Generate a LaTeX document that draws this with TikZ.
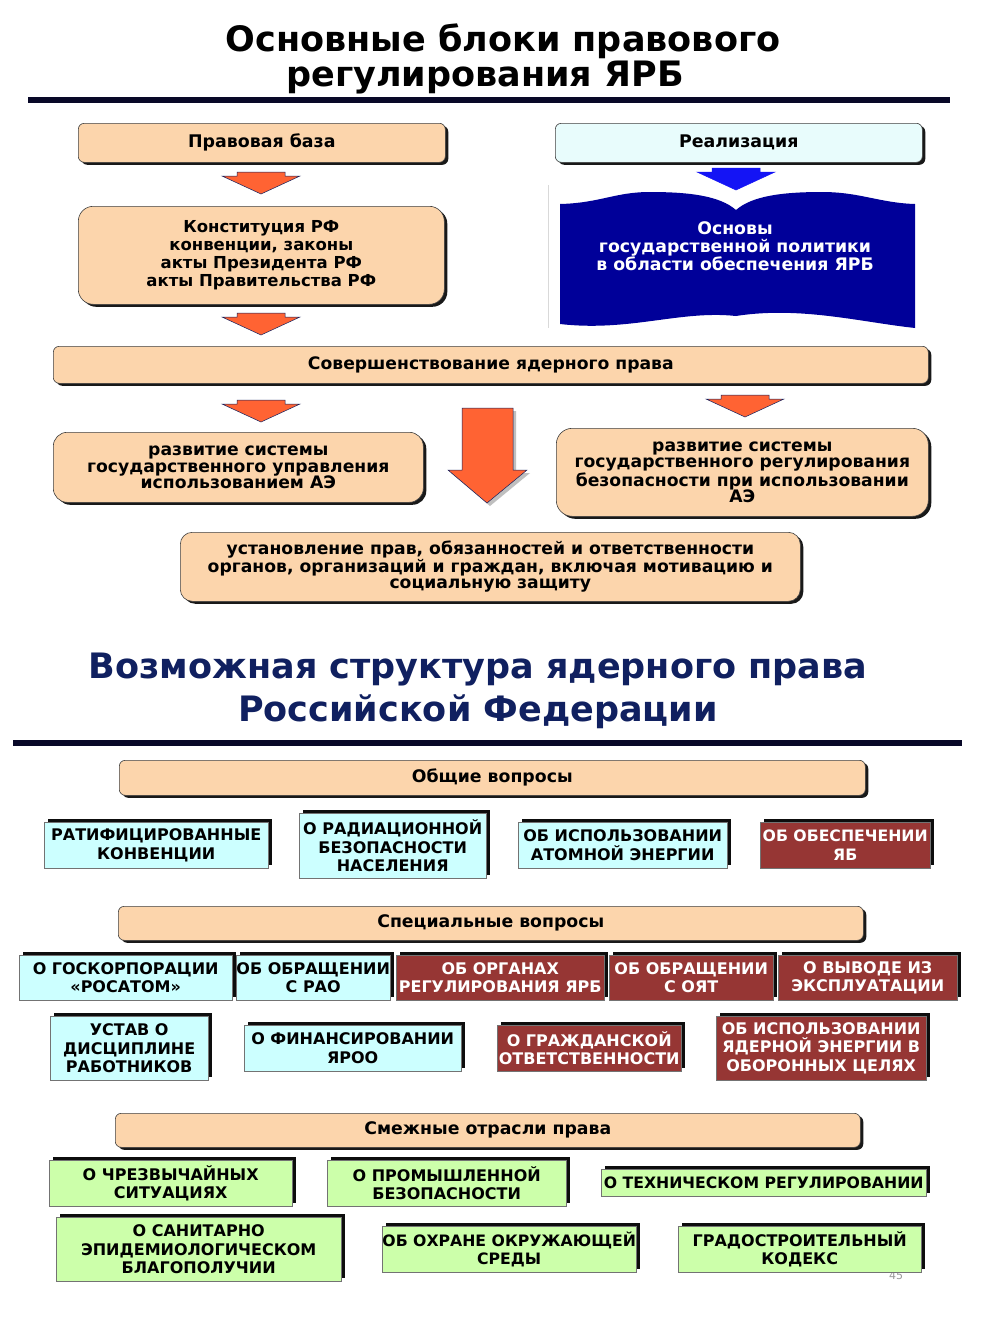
\documentclass[tikz,border=0pt]{standalone}
\usepackage{fontspec}
\setmainfont{DejaVu Sans}
\usetikzlibrary{shadows}
\definecolor{peach}{RGB}{252,213,172}
\definecolor{lcyan}{RGB}{232,252,252}
\definecolor{cyanb}{RGB}{204,255,255}
\definecolor{redb}{RGB}{150,54,52}
\definecolor{greenb}{RGB}{204,255,170}
\definecolor{arrOr}{RGB}{255,99,51}
\definecolor{arrBl}{RGB}{20,20,245}
\definecolor{bookb}{RGB}{0,0,153}
\definecolor{navy}{RGB}{16,32,96}
\definecolor{rulec}{RGB}{8,8,40}
\begin{document}
\begin{tikzpicture}[x=1pt,y=-1pt,
  topbox/.style={draw=black!75, line width=0.6pt, rounded corners=6pt, fill=peach,
    drop shadow={shadow xshift=3pt, shadow yshift=-2.5pt, fill=black, opacity=0.9},
    inner sep=0pt, align=center, anchor=north west,
    font=\bfseries\fontsize{17.2}{16.5}\selectfont},
  hdrfont/.style={font=\bfseries\fontsize{17.3}{19}\selectfont},
  botbox/.style={draw=black!55, line width=0.4pt, inner sep=0pt, align=center, anchor=north west,
    drop shadow={shadow xshift=4pt, shadow yshift=3pt, fill=black, opacity=0.95},
    font=\bfseries\fontsize{16}{18.5}\selectfont},
  cyb/.style={botbox, fill=cyanb},
  rdb/.style={botbox, fill=redb, text=white},
  grb/.style={botbox, fill=greenb},
  title/.style={font=\bfseries\fontsize{35}{37}\selectfont, inner sep=0pt},
  chev/.pic={\path[pic actions] (-24,0) -- (24,0) -- (24,4) -- (39,4) -- (0,22) -- (-39,4) -- (-24,4) -- cycle;}
]
\useasboundingbox[fill=white] (0,0) rectangle (995,1320);

% ---------- Title 1
\node[title] (t1a) at (503,41) {Основные блоки правового};
\node[title] (t1b) at (485,78) {регулирования ЯРБ};
\fill[rulec] (28,97) rectangle (950,103);

% ---------- top section
\node[topbox, minimum width=367pt, minimum height=39pt, font=\bfseries\fontsize{17.4}{18}\selectfont] (pb) at (78,123) {Правовая база};
\node[topbox, fill=lcyan, minimum width=367pt, minimum height=39pt, font=\bfseries\fontsize{17.4}{18}\selectfont] (re) at (555,123) {Реализация};

\pic[fill=arrOr, draw=navy, line width=0.5pt] at (261,172) {chev};
\pic[fill=arrBl, draw=arrBl, line width=0.5pt] at (736,168) {chev};

\node[topbox, rounded corners=15pt, minimum width=366pt, minimum height=98pt, font=\bfseries\fontsize{16.5}{18}\selectfont] (ko) at (78,206)
  {Конституция РФ\\конвенции, законы\\акты Президента РФ\\акты Правительства РФ};

% book
\draw[black!15, line width=0.8pt] (548,185) -- (548,328);
\fill[bookb] (560,204) .. controls (600,203) and (615,192) .. (650,192)
  .. controls (690,192) and (720,196) .. (736,210)
  .. controls (752,196) and (782,192) .. (822,192)
  .. controls (860,192) and (880,203) .. (915,204)
  -- (915,328)
  .. controls (860,322) and (800,306) .. (736,316)
  .. controls (680,310) and (630,332) .. (560,324) -- cycle;
\node[text=white, align=center, inner sep=0pt, font=\bfseries\fontsize{17.3}{18}\selectfont] (bk) at (735,246)
  {Основы\\государственной политики\\в области обеспечения ЯРБ};

\pic[fill=arrOr, draw=navy, line width=0.5pt] at (261,313) {chev};

\node[topbox, minimum width=875pt, minimum height=37pt] (so) at (53,346) {Совершенствование ядерного права};

\pic[fill=arrOr, draw=navy, line width=0.5pt] at (261,400) {chev};
\pic[fill=arrOr, draw=navy, line width=0.5pt] at (745,395) {chev};

\fill[black!25] (465,411) -- (516,411) -- (516,473) -- (530,473) -- (490,506) -- (451,473) -- (465,473) -- cycle;
\filldraw[fill=arrOr, draw=navy, line width=0.5pt] (462,408) -- (513,408) -- (513,470) -- (527,470) -- (487,503) -- (448,470) -- (462,470) -- cycle;

\node[topbox, rounded corners=14pt, minimum width=370pt, minimum height=70pt] (rl) at (53,432)
  {развитие системы\\государственного управления\\использованием АЭ};
\node[topbox, rounded corners=16pt, minimum width=372pt, minimum height=88pt] (rr) at (556,428)
  {развитие системы\\государственного регулирования\\безопасности при использовании\\АЭ};
\node[topbox, rounded corners=12pt, minimum width=620pt, minimum height=69pt] (us) at (180,532)
  {установление прав, обязанностей и ответственности\\органов, организаций и граждан, включая мотивацию и\\социальную защиту};

% ---------- Title 2
\node[title, text=navy] (t2a) at (478,670) {Возможная структура ядерного права};
\node[title, text=navy] (t2b) at (478,712) {Российской Федерации};
\fill[rulec] (13,740) rectangle (962,746);

% ---------- general
\node[topbox, hdrfont, minimum width=746pt, minimum height=35pt] (ob) at (119,760) {Общие вопросы};
\node[cyb, minimum width=224pt, minimum height=46pt] (r11) at (44,822) {РАТИФИЦИРОВАННЫЕ\\КОНВЕНЦИИ};
\node[cyb, minimum width=187pt, minimum height=65pt] (r12) at (299,813) {О РАДИАЦИОННОЙ\\БЕЗОПАСНОСТИ\\НАСЕЛЕНИЯ};
\node[cyb, minimum width=209pt, minimum height=46pt] (r13) at (518,822) {ОБ ИСПОЛЬЗОВАНИИ\\АТОМНОЙ ЭНЕРГИИ};
\node[rdb, minimum width=170pt, minimum height=46pt, font=\bfseries\fontsize{15.7}{18.5}\selectfont] (r14) at (760,822) {ОБ ОБЕСПЕЧЕНИИ\\ЯБ};

% ---------- special
\node[topbox, hdrfont, minimum width=745pt, minimum height=34pt] (sp) at (118,906) {Специальные вопросы};
\node[cyb, minimum width=213pt, minimum height=45pt] (r21) at (19,955) {О ГОСКОРПОРАЦИИ\\«РОСАТОМ»};
\node[cyb, minimum width=154pt, minimum height=45pt] (r22) at (236,955) {ОБ ОБРАЩЕНИИ\\С РАО};
\node[rdb, minimum width=208pt, minimum height=45pt] (r23) at (396,955) {ОБ ОРГАНАХ\\РЕГУЛИРОВАНИЯ ЯРБ};
\node[rdb, minimum width=164pt, minimum height=45pt] (r24) at (609,955) {ОБ ОБРАЩЕНИИ\\С ОЯТ};
\node[rdb, minimum width=179pt, minimum height=45pt] (r25) at (778,955) {О ВЫВОДЕ ИЗ\\ЭКСПЛУАТАЦИИ};

\node[cyb, minimum width=158pt, minimum height=64pt] (r31) at (50,1016) {УСТАВ О\\ДИСЦИПЛИНЕ\\РАБОТНИКОВ};
\node[cyb, minimum width=217pt, minimum height=46pt] (r32) at (244,1025) {О ФИНАНСИРОВАНИИ\\ЯРОО};
\node[rdb, minimum width=184pt, minimum height=46pt] (r33) at (497,1025) {О ГРАЖДАНСКОЙ\\ОТВЕТСТВЕННОСТИ};
\node[rdb, minimum width=210pt, minimum height=64pt] (r34) at (716,1016) {ОБ ИСПОЛЬЗОВАНИИ\\ЯДЕРНОЙ ЭНЕРГИИ В\\ОБОРОННЫХ ЦЕЛЯХ};

% ---------- adjacent
\node[topbox, hdrfont, minimum width=745pt, minimum height=34pt] (sm) at (115,1113) {Смежные отрасли права};
\node[grb, minimum width=243pt, minimum height=46pt] (r41) at (49,1160) {О ЧРЕЗВЫЧАЙНЫХ\\СИТУАЦИЯХ};
\node[grb, minimum width=239pt, minimum height=46pt] (r42) at (327,1160) {О ПРОМЫШЛЕННОЙ\\БЕЗОПАСНОСТИ};
\node[grb, minimum width=325pt, minimum height=27pt, font=\bfseries\fontsize{15.7}{18.5}\selectfont] (r43) at (601,1169) {О ТЕХНИЧЕСКОМ РЕГУЛИРОВАНИИ};

\node[text=black!40, font=\fontsize{11}{11}\selectfont, inner sep=0pt] (pg) at (896,1276) {45};
\node[grb, minimum width=285pt, minimum height=64pt] (r51) at (56,1217) {О САНИТАРНО\\ЭПИДЕМИОЛОГИЧЕСКОМ\\БЛАГОПОЛУЧИИ};
\node[grb, minimum width=254pt, minimum height=46pt, font=\bfseries\fontsize{15.7}{18.5}\selectfont] (r52) at (382,1226) {ОБ ОХРАНЕ ОКРУЖАЮЩЕЙ\\СРЕДЫ};
\node[grb, minimum width=243pt, minimum height=46pt] (r53) at (678,1226) {ГРАДОСТРОИТЕЛЬНЫЙ\\КОДЕКС};
\end{tikzpicture}
\end{document}
